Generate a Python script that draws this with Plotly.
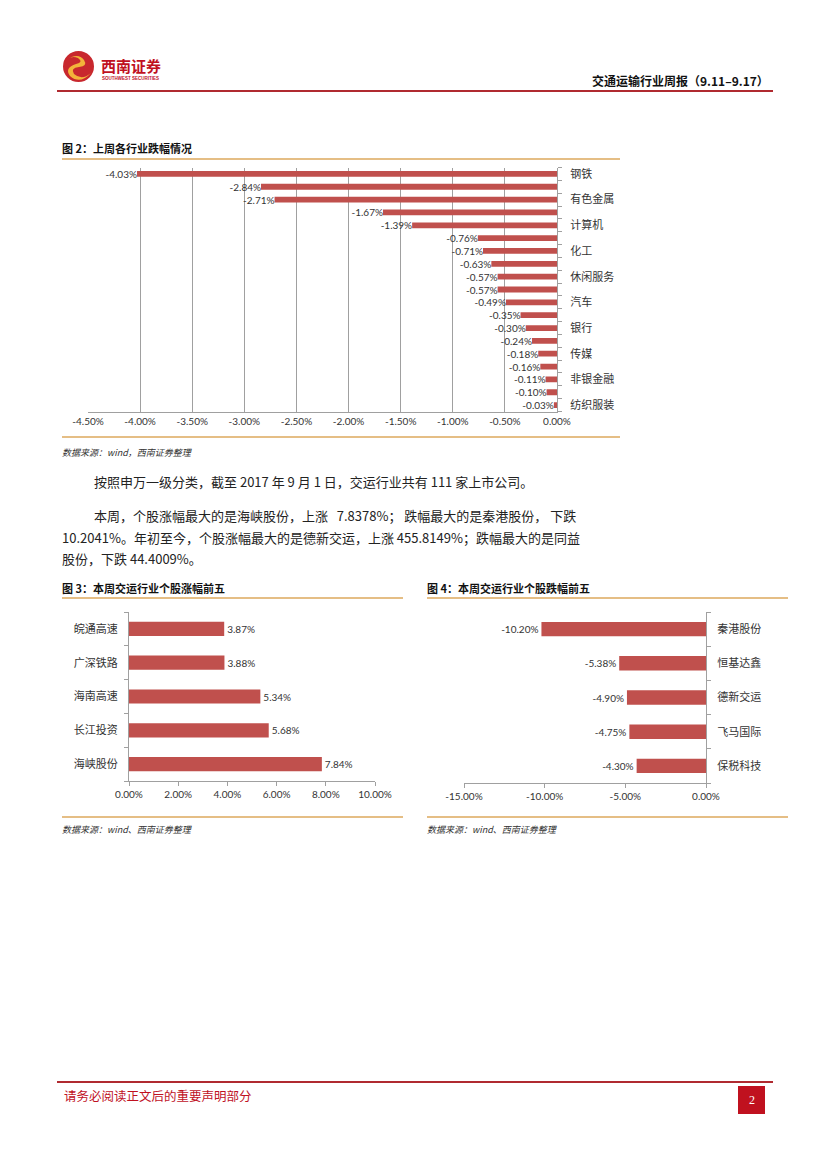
import plotly.graph_objects as go

W, H = 827, 1169

# ---------------- data ----------------
ind_names = ["钢铁", "采掘", "有色金属", "通信", "计算机", "电子", "化工", "建筑材料",
             "休闲服务", "机械设备", "汽车", "家用电器", "银行", "电气设备", "传媒",
             "综合", "非银金融", "农林牧渔", "纺织服装"]
ind_values = [-4.03, -2.84, -2.71, -1.67, -1.39, -0.76, -0.71, -0.63, -0.57, -0.57,
              -0.49, -0.35, -0.30, -0.24, -0.18, -0.16, -0.11, -0.10, -0.03]
ind_shown = ["钢铁", "有色金属", "计算机", "化工", "休闲服务", "汽车", "银行", "传媒", "非银金融", "纺织服装"]
ind_xticks = [-4.5, -4.0, -3.5, -3.0, -2.5, -2.0, -1.5, -1.0, -0.5, 0.0]

up_names = ["皖通高速", "广深铁路", "海南高速", "长江投资", "海峡股份"]
up_values = [3.87, 3.88, 5.34, 5.68, 7.84]
up_xticks = [0, 2, 4, 6, 8, 10]

down_names = ["秦港股份", "恒基达鑫", "德新交运", "飞马国际", "保税科技"]
down_values = [-10.20, -5.38, -4.90, -4.75, -4.30]
down_xticks = [-15, -10, -5, 0]

BAR = "#C0504D"
GOLD = "#DDA85C"
AX = "#A0A0A0"
CJK = "Noto Sans CJK SC"
NUM = "Lato, Noto Sans CJK SC"


def px(x):
    return x / W


def py(y):
    return 1 - y / H


fig = go.Figure()

# ---------------- chart 2 ----------------
idx = list(range(len(ind_names)))
fig.add_trace(go.Bar(
    x=ind_values, y=idx, orientation="h", marker_color=BAR, width=0.45,
    text=[f"{v:.2f}%" for v in ind_values], textposition="outside",
    constraintext="none",
    textfont=dict(size=10, color="#333", family=NUM), cliponaxis=False,
    xaxis="x", yaxis="y", showlegend=False))

fig.update_layout(
    xaxis=dict(domain=[px(88), px(557)], range=[-4.5, 0], anchor="y", automargin=False,
               tickvals=ind_xticks, ticktext=[f"{v:.2f}%" for v in ind_xticks],
               showgrid=True, gridcolor=AX, gridwidth=1,
               showline=True, linecolor=AX, zeroline=False, ticks="",
               tickfont=dict(size=10, color="#333", family=NUM), fixedrange=True),
    yaxis=dict(domain=[py(411.5), py(167.5)], range=[18.5, -0.5], anchor="x",
               side="right", showline=True, linecolor=AX, showgrid=False,
               zeroline=False, automargin=False,
               tickvals=[ind_names.index(n) for n in ind_shown], ticktext=ind_shown,
               ticks="", ticklabelstandoff=10,
               tickfont=dict(size=11, color="#333", family=CJK),
               minor=dict(tickvals=[i - 0.5 for i in range(len(ind_names) + 1)],
                          ticks="outside", ticklen=4, tickcolor=AX),
               fixedrange=True),
)

# ---------------- chart 3 ----------------
fig.add_trace(go.Bar(
    x=up_values, y=list(range(5)), orientation="h", marker_color=BAR, width=0.42,
    text=[f"{v:.2f}%" for v in up_values], textposition="outside",
    constraintext="none",
    textfont=dict(size=10, color="#333", family=NUM), cliponaxis=False,
    xaxis="x2", yaxis="y2", showlegend=False))

fig.update_layout(
    xaxis2=dict(domain=[px(129), px(375)], range=[0, 10], anchor="y2", automargin=False,
                tickvals=up_xticks, ticktext=[f"{v:.2f}%" for v in up_xticks],
                showgrid=False, showline=True, linecolor=AX, zeroline=False,
                ticks="outside", ticklen=4, tickcolor=AX,
                tickfont=dict(size=10, color="#333", family=NUM), fixedrange=True),
    yaxis2=dict(domain=[py(781), py(612)], range=[4.5, -0.5], anchor="x2",
                showline=True, linecolor=AX, showgrid=False, zeroline=False,
                automargin=False,
                tickvals=list(range(5)), ticktext=up_names, ticks="",
                ticklabelstandoff=8,
                tickfont=dict(size=11, color="#333", family=CJK),
                minor=dict(tickvals=[i - 0.5 for i in range(6)], ticks="outside",
                           ticklen=4, tickcolor=AX),
                fixedrange=True),
)

# ---------------- chart 4 ----------------
fig.add_trace(go.Bar(
    x=down_values, y=list(range(5)), orientation="h", marker_color=BAR, width=0.42,
    text=[f"{v:.2f}%" for v in down_values], textposition="outside",
    constraintext="none",
    textfont=dict(size=10, color="#333", family=NUM), cliponaxis=False,
    xaxis="x3", yaxis="y3", showlegend=False))

fig.update_layout(
    xaxis3=dict(domain=[px(464), px(706)], range=[-15, 0], anchor="y3", automargin=False,
                tickvals=down_xticks, ticktext=[f"{v:.2f}%" for v in down_xticks],
                showgrid=False, showline=True, linecolor=AX, zeroline=False,
                ticks="outside", ticklen=4, tickcolor=AX,
                tickfont=dict(size=10, color="#333", family=NUM), fixedrange=True),
    yaxis3=dict(domain=[py(783), py(612)], range=[4.5, -0.5], anchor="x3",
                side="right", showline=True, linecolor=AX, showgrid=False,
                zeroline=False, automargin=False,
                tickvals=list(range(5)), ticktext=down_names,
                ticks="", ticklabelstandoff=8,
                tickfont=dict(size=11, color="#333", family=CJK),
                minor=dict(tickvals=[i - 0.5 for i in range(6)], ticks="outside",
                           ticklen=4, tickcolor=AX),
                fixedrange=True),
)

# ---------------- page decorations ----------------
shapes = []


def hline(x0, x1, y, color, w):
    shapes.append(dict(type="line", xref="paper", yref="paper",
                       x0=px(x0), x1=px(x1), y0=py(y), y1=py(y),
                       line=dict(color=color, width=w)))


hline(57, 773, 91, "#B02A30", 2)        # header line
hline(57, 773, 1082, "#B02A30", 2)      # footer line
hline(62, 620, 159, GOLD, 1.5)
hline(62, 620, 437, GOLD, 1.5)
hline(62, 403, 598, GOLD, 1.5)
hline(62, 403, 817, GOLD, 1.5)
hline(427, 788, 598, GOLD, 1.5)
hline(427, 788, 817, GOLD, 1.5)

# logo
shapes.append(dict(type="circle", xref="paper", yref="paper",
                   x0=px(63), x1=px(94), y0=py(82), y1=py(51),
                   fillcolor="#C8282E", line=dict(width=0)))
shapes.append(dict(type="path", xref="paper", yref="paper",
                   path=(f"M {px(66)},{py(60)} Q {px(78)},{py(52)} {px(84)},{py(60)} "
                         f"Q {px(88)},{py(66)} {px(79)},{py(67)} "
                         f"Q {px(70)},{py(68)} {px(74)},{py(74)} "
                         f"Q {px(82)},{py(81)} {px(91)},{py(73)} "
                         f"Q {px(80)},{py(85)} {px(70)},{py(76)} "
                         f"Q {px(64)},{py(68)} {px(76)},{py(64)} "
                         f"Q {px(84)},{py(62)} {px(78)},{py(58)} "
                         f"Q {px(72)},{py(55)} {px(66)},{py(60)} Z"),
                   fillcolor="#F3B43A", line=dict(width=0)))
# page number box
shapes.append(dict(type="rect", xref="paper", yref="paper",
                   x0=px(738), x1=px(765), y0=py(1114), y1=py(1086),
                   fillcolor="#C0111F", line=dict(width=0)))

ann = []


def text(x, y, s, size, color="#111", family=CJK, xanchor="left", bold=False, italic=False):
    if bold:
        s = f"<b>{s}</b>"
    if italic:
        s = f"<i>{s}</i>"
    ann.append(dict(x=px(x), y=py(y), xref="paper", yref="paper", text=s,
                    showarrow=False, xanchor=xanchor, yanchor="middle",
                    font=dict(size=size, color=color, family=family)))


text(99, 65, "西南证券", 15, color="#C0111F", bold=True)
text(100, 78, "SOUTHWEST SECURITIES", 4.5, color="#C0111F", family="Liberation Sans", bold=True)
text(771, 81, "交通运输行业周报（9.11–9.17）", 12, color="#111", xanchor="right", bold=True)

text(60, 148, "图 2：上周各行业跌幅情况", 11, bold=True)
text(60, 452, "数据来源：wind，西南证券整理", 9, color="#333", italic=True)

text(92, 482, "按照申万一级分类，截至 2017 年 9 月 1 日，交运行业共有 111 家上市公司。", 13, color="#222")
text(92, 515, "本周，个股涨幅最大的是海峡股份，上涨 &nbsp; 7.8378%； 跌幅最大的是秦港股份， 下跌", 13, color="#222")
text(60, 537, "10.2041%。年初至今，个股涨幅最大的是德新交运，上涨 455.8149%；跌幅最大的是同益", 13, color="#222")
text(60, 558, "股份，下跌 44.4009%。", 13, color="#222")

text(60, 588, "图 3：本周交运行业个股涨幅前五", 11, bold=True)
text(60, 829, "数据来源：wind、西南证券整理", 9, color="#333", italic=True)
text(425, 588, "图 4：本周交运行业个股跌幅前五", 11, bold=True)
text(425, 829, "数据来源：wind、西南证券整理", 9, color="#333", italic=True)

text(62, 1095, "请务必阅读正文后的重要声明部分", 12.5, color="#C0111F")
text(751.5, 1100, "2", 12, color="white", family="Liberation Serif", xanchor="center")

fig.update_layout(
    template="none",
    width=W, height=H, margin=dict(l=0, r=0, t=0, b=0, pad=0, autoexpand=False),
    paper_bgcolor="white", plot_bgcolor="white",
    shapes=shapes, annotations=ann, bargap=0.5,
    font=dict(family=CJK),
)

fig.write_html("out.html", config={"displayModeBar": False},
               post_script="document.body.style.margin='0';document.body.style.overflow='hidden';")
